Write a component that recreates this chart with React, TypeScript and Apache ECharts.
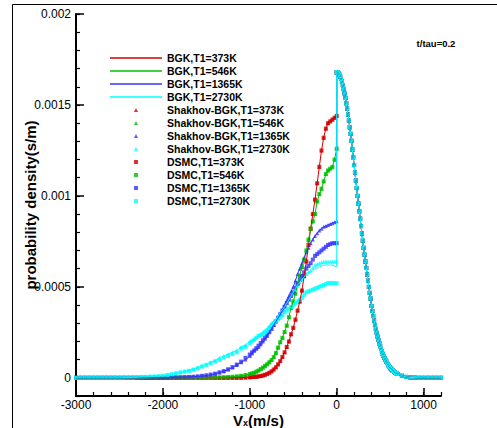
import React, { useEffect, useRef } from "react";
import * as echarts from "echarts";

// ---- velocity grids (m/s) ----
const vFarLeft = [
  -3000, -2950, -2900, -2850, -2800, -2750, -2700, -2650, -2600, -2550,
  -2500, -2450, -2400, -2350, -2300, -2250, -2200, -2150, -2100, -2050,
  -2000, -1950, -1900, -1850, -1800, -1750, -1700, -1650, -1600, -1550,
  -1500, -1450, -1400, -1350, -1300, -1250, -1200, -1150, -1100, -1050,
];
const vNearLeft = [
  -1000, -975, -950, -925, -900, -875, -850, -825, -800, -775,
  -750, -725, -700, -675, -650, -625, -600, -575, -550, -525,
  -500, -475, -450, -425, -400, -375, -350, -325, -300, -275,
  -250, -225, -200, -175, -150, -125, -100, -75, -50, -25, 0,
];
const vNearRight = [
  0, 10, 20, 30, 40, 50, 60, 70, 80, 90,
  100, 110, 120, 130, 140, 150, 160, 170, 180, 190,
  200, 210, 220, 230, 240, 250, 260, 270, 280, 290,
  300, 310, 320, 330, 340, 350, 360, 370, 380, 390,
  400, 410, 420, 430, 440, 450, 460, 470, 480, 490,
  500, 510, 520, 530, 540, 550, 560, 570, 580, 590,
  600, 610, 620, 630, 640, 650, 660, 670, 680, 690, 700,
];
const vFarRight = [750, 800, 850, 900, 950, 1000, 1050, 1100, 1150, 1200];

// ---- right branch (Vx > 0), common to all cases ----
const nearRight = [
  0.00168, 0.00168, 0.001674, 0.001667, 0.001656, 0.001643, 0.001628, 0.001609, 0.001588, 0.001564,
  0.001538, 0.00151, 0.00148, 0.001448, 0.001414, 0.001378, 0.001341, 0.001303, 0.001255, 0.001213,
  0.00117, 0.001128, 0.001085, 0.001043, 0.001, 0.000958, 0.000916, 0.000875, 0.000834, 0.000794,
  0.000754, 0.000715, 0.000677, 0.00064, 0.000604, 0.000568, 0.000534, 0.0005, 0.000467, 0.000436,
  0.000395, 0.000367, 0.00034, 0.000315, 0.000291, 0.000268, 0.000247, 0.000227, 0.000208, 0.00019,
  0.000174, 0.000159, 0.000145, 0.000132, 0.00012, 0.000109, 0.000099, 0.00009, 0.000081, 0.000073,
  0.000066, 0.000059, 0.000053, 0.000047, 0.000042, 0.000038, 0.000034, 0.00003, 0.000027, 0.000024, 0.000021,
];
const farRight = [0.000011, 0.000005, 0.000002, 0.000001, 0, 0, 0, 0, 0, 0];

// ---- left branches (Vx < 0) ----
// T1 = 373K (BGK, Shakhov-BGK and DSMC coincide)
const far373 = [
  0, 0, 0, 0, 0, 0, 0, 0, 0, 0,
  0, 0, 0, 0, 0, 0, 0, 0, 0, 0,
  0, 0, 0, 0, 0, 0, 0, 0, 0, 0,
  0, 0, 0, 0, 0, 0, 0, 0, 0.000001, 0.000002,
];
const near373 = [
  0.000003, 0.000004, 0.000005, 0.000006, 0.000008, 0.00001, 0.000013, 0.000017, 0.000022, 0.000028,
  0.000036, 0.000046, 0.000058, 0.000074, 0.000092, 0.000115, 0.00014, 0.00017, 0.0002, 0.00024,
  0.000275, 0.00032, 0.00037, 0.00042, 0.00048, 0.00056, 0.00064, 0.00073, 0.00082, 0.0009,
  0.00098, 0.00107, 0.00116, 0.00125, 0.00132, 0.00137, 0.0014, 0.00141, 0.00142, 0.00143, 0.00144,
];
// T1 = 546K
const far546 = [
  0, 0, 0, 0, 0, 0, 0, 0, 0, 0,
  0, 0, 0, 0, 0, 0, 0, 0, 0, 0,
  0, 0, 0, 0, 0, 0, 0, 0, 0, 0,
  0, 0, 0.000001, 0.000002, 0.000003, 0.000004, 0.000006, 0.000008, 0.000011, 0.000015,
];
const near546 = [
  0.000021, 0.000024, 0.000028, 0.000034, 0.00004, 0.000048, 0.000056, 0.000066, 0.000075, 0.000086,
  0.000098, 0.000114, 0.000136, 0.000166, 0.000196, 0.00022, 0.000252, 0.000287, 0.000334, 0.000385,
  0.00042, 0.000463, 0.000517, 0.000562, 0.000608, 0.00065, 0.0007, 0.00076, 0.00082, 0.00086,
  0.0009, 0.00097, 0.00101, 0.00104, 0.00108, 0.00112, 0.00114, 0.00115, 0.00116, 0.0012, 0.00126,
];
// T1 = 1365K
const far1365Model = [
  0, 0, 0, 0, 0, 0, 0, 0, 0, 0,
  0, 0, 0, 0, 0, 0, 0, 0, 0, 0,
  0, 0, 0.000001, 0.000002, 0.000002, 0.000003, 0.000004, 0.000006, 0.000008, 0.00001,
  0.000013, 0.000017, 0.000022, 0.000029, 0.000036, 0.000046, 0.000057, 0.00007, 0.000085, 0.0001,
];
const near1365Model = [
  0.00012, 0.000135, 0.00015, 0.00016, 0.00017, 0.000185, 0.0002, 0.000215, 0.00023, 0.00025,
  0.00027, 0.00029, 0.00031, 0.00033, 0.00035, 0.000375, 0.0004, 0.000425, 0.00045, 0.000475,
  0.0005, 0.000535, 0.00057, 0.0006, 0.00063, 0.00066, 0.00069, 0.000715, 0.00074, 0.00076,
  0.00078, 0.000795, 0.00081, 0.00082, 0.00083, 0.000835, 0.00084, 0.000845, 0.00085, 0.000855, 0.00086,
];
const far1365Dsmc = [
  0, 0, 0, 0, 0, 0, 0, 0, 0, 0,
  0, 0, 0, 0, 0, 0, 0, 0, 0, 0,
  0.000001, 0.000001, 0.000002, 0.000002, 0.000003, 0.000004, 0.000005, 0.000006, 0.000008, 0.000011,
  0.000014, 0.000018, 0.000023, 0.00003, 0.000037, 0.000047, 0.000059, 0.000073, 0.000089, 0.00011,
];
const near1365Dsmc = [
  0.000128, 0.00014, 0.00015, 0.000163, 0.000177, 0.000192, 0.000207, 0.000222, 0.000237, 0.000254,
  0.00027, 0.00029, 0.00031, 0.00033, 0.00035, 0.00037, 0.00039, 0.00041, 0.00043, 0.00045,
  0.00047, 0.000495, 0.00052, 0.00054, 0.00056, 0.00058, 0.0006, 0.000615, 0.00063, 0.00065,
  0.00067, 0.00068, 0.00069, 0.0007, 0.00071, 0.00072, 0.00073, 0.000735, 0.00074, 0.00074, 0.00074,
];
// T1 = 2730K
const far2730Model = [
  0, 0, 0, 0, 0, 0, 0, 0, 0, 0,
  0, 0.000001, 0.000001, 0.000002, 0.000003, 0.000004, 0.000005, 0.000006, 0.000008, 0.00001,
  0.000013, 0.000016, 0.00002, 0.000025, 0.00003, 0.000036, 0.000042, 0.000049, 0.000057, 0.000066,
  0.000076, 0.000085, 0.000095, 0.00011, 0.00012, 0.00013, 0.00014, 0.00015, 0.00017, 0.00018,
];
const near2730Shakhov = [
  0.0002, 0.000205, 0.00021, 0.00022, 0.00023, 0.00024, 0.00025, 0.00026, 0.00027, 0.000285,
  0.0003, 0.00031, 0.00032, 0.00034, 0.00036, 0.000375, 0.00039, 0.00041, 0.00043, 0.00045,
  0.00047, 0.00049, 0.00051, 0.000525, 0.00054, 0.000555, 0.00057, 0.00058, 0.00059, 0.000605,
  0.00062, 0.000625, 0.00063, 0.000635, 0.00064, 0.00064, 0.00064, 0.00064, 0.00064, 0.00064, 0.00064,
];
const near2730Bgk = [
  0.0002, 0.000205, 0.00021, 0.00022, 0.00023, 0.00024, 0.00025, 0.00026, 0.00027, 0.000285,
  0.0003, 0.00031, 0.00032, 0.00034, 0.00036, 0.000375, 0.00039, 0.00041, 0.00043, 0.00045,
  0.00047, 0.00049, 0.00051, 0.000525, 0.00054, 0.000555, 0.00057, 0.00058, 0.00058, 0.00059,
  0.0006, 0.000605, 0.00061, 0.000615, 0.00062, 0.00062, 0.00062, 0.00062, 0.00062, 0.000615, 0.00061,
];
const far2730Dsmc = [
  0, 0, 0, 0, 0, 0, 0, 0, 0, 0,
  0, 0, 0.000001, 0.000001, 0.000003, 0.000004, 0.000005, 0.000006, 0.000007, 0.000009,
  0.000011, 0.000015, 0.00002, 0.000025, 0.00003, 0.000034, 0.000038, 0.000045, 0.000052, 0.000062,
  0.00007, 0.00008, 0.00009, 0.000098, 0.00011, 0.00012, 0.00013, 0.00014, 0.00016, 0.00017,
];
const near2730Dsmc = [
  0.00019, 0.0002, 0.00021, 0.00022, 0.00023, 0.000235, 0.00024, 0.00025, 0.00026, 0.000275,
  0.00029, 0.0003, 0.00031, 0.00032, 0.00033, 0.000345, 0.00036, 0.00037, 0.00038, 0.00039,
  0.0004, 0.00041, 0.00042, 0.00043, 0.00044, 0.000455, 0.00047, 0.000475, 0.00048, 0.000485,
  0.00049, 0.000495, 0.0005, 0.000505, 0.00051, 0.000515, 0.00052, 0.00052, 0.00052, 0.00052, 0.00052,
];

const temps = ["373K", "546K", "1365K", "2730K"];
const colors = ["#d40000", "#00c000", "#3333ff", "#00ffff"];
const bgkFar = [far373, far546, far1365Model, far2730Model];
const bgkNear = [near373, near546, near1365Model, near2730Bgk];
const shakhovFar = [far373, far546, far1365Model, far2730Model];
const shakhovNear = [near373, near546, near1365Model, near2730Shakhov];
const dsmcFar = [far373, far546, far1365Dsmc, far2730Dsmc];
const dsmcNear = [near373, near546, near1365Dsmc, near2730Dsmc];

const yLabelValues = [0, 0.0005, 0.001, 0.0015, 0.002];
const yLabels = ["0", "0.0005", "0.001", "0.0015", "0.002"];

const FONT = "Liberation Sans, Arial, sans-serif";

// plot frame (pixels)
const GL = 76;
const GR = 56;
const GT = 14;
const GB = 32;
const PLOT_W = 497 - GL - GR;
const PLOT_H = 428 - GT - GB;

function pairs(xs: number[], ys: number[]) {
  return xs.map((x, i) => [x, ys[i]]);
}
function curve(far: number[], near: number[]) {
  return pairs(vFarLeft, far)
    .concat(pairs(vNearLeft, near))
    .concat(pairs(vNearRight, nearRight))
    .concat(pairs(vFarRight, farRight));
}

export default function App() {
  const ref = useRef<HTMLDivElement>(null);
  useEffect(() => {
    if (!ref.current) return;
    const chart = echarts.init(ref.current, null, { renderer: "svg" });
    const series: any[] = [];
    const legendData: any[] = [];
    temps.forEach((t, k) => {
      const name = "BGK,T1=" + t;
      legendData.push({ name, icon: "path://M0,0L52,0L52,1.6L0,1.6Z" });
      series.push({
        name,
        type: "line",
        symbol: "none",
        showSymbol: false,
        color: colors[k],
        lineStyle: { width: 1, color: colors[k] },
        data: curve(bgkFar[k], bgkNear[k]),
      });
    });
    temps.forEach((t, k) => {
      const name = "Shakhov-BGK,T1=" + t;
      legendData.push({ name, icon: "path://M5,0L10,10L0,10Z" });
      series.push({
        name,
        type: "scatter",
        symbol: "triangle",
        symbolSize: 4,
        itemStyle: { color: colors[k] },
        data: curve(shakhovFar[k], shakhovNear[k]),
      });
    });
    temps.forEach((t, k) => {
      const name = "DSMC,T1=" + t;
      legendData.push({ name, icon: "path://M0,0L10,0L10,10L0,10Z" });
      series.push({
        name,
        type: "scatter",
        symbol: "rect",
        symbolSize: 4,
        itemStyle: { color: colors[k] },
        data: curve(dsmcFar[k], dsmcNear[k]),
      });
    });

    // pixel position of Vx = 1000 on the main axis
    const x1000 = GL + (4000 / 4200) * PLOT_W;
    // pixel position of 0 on the main y axis
    const y0 = GT + (0.002 / 0.0021) * PLOT_H;

    const tickStyle = (len: number, w: number) => ({
      show: true,
      inside: true,
      length: len,
      lineStyle: { color: "#000", width: w },
    });

    chart.setOption({
      animation: false,
      backgroundColor: "#ffffff",
      grid: [
        { left: GL, right: GR, top: GT, bottom: GB, outerBoundsMode: "none", containLabel: false },
        { left: GL, right: GR, top: GT, bottom: 428 - y0, outerBoundsMode: "none", containLabel: false },
        { left: GL, right: 497 - x1000, top: GT, bottom: GB, outerBoundsMode: "none", containLabel: false },
      ],
      legend: {
        orient: "vertical",
        left: 110,
        top: 52,
        padding: 0,
        itemWidth: 52,
        itemHeight: 4,
        itemGap: 1,
        selectedMode: false,
        textStyle: {
          fontFamily: FONT,
          fontWeight: "bold",
          fontSize: 10.5,
          color: "#000",
          lineHeight: 12,
        },
        data: legendData,
      },
      xAxis: [
        {
          gridIndex: 0,
          type: "value",
          min: -3000,
          max: 1200,
          interval: 200,
          position: "bottom",
          splitLine: { show: false },
          axisLine: { show: true, onZero: false, lineStyle: { color: "#000", width: 2 } },
          axisTick: tickStyle(4, 1.2),
          axisLabel: { show: false },
          name: "{v|V}{s|x}{v|(m/s)}",
          nameLocation: "middle",
          nameGap: 17,
          nameTextStyle: {
            lineHeight: 14,
            rich: {
              v: { fontFamily: FONT, fontWeight: "bold", fontSize: 15, color: "#000", lineHeight: 14 },
              s: {
                fontFamily: FONT,
                fontWeight: "bold",
                fontSize: 9,
                color: "#000",
                lineHeight: 14,
                verticalAlign: "bottom",
                padding: [5, 0, 0, 0],
              },
            },
          },
        },
        {
          gridIndex: 1,
          type: "value",
          min: -3000,
          max: 1200,
          show: false,
        },
        {
          gridIndex: 2,
          type: "value",
          min: -3000,
          max: 1000,
          interval: 1000,
          position: "bottom",
          splitLine: { show: false },
          axisLine: { show: false, onZero: false },
          axisTick: tickStyle(8, 1.5),
          axisLabel: {
            formatter: (v: number) => String(Math.round(v)),
            fontFamily: FONT,
            fontSize: 12,
            lineHeight: 12,
            color: "#000",
            margin: 3,
          },
        },
      ],
      yAxis: [
        {
          gridIndex: 0,
          type: "value",
          min: -0.0001,
          max: 0.002,
          interval: 0.0001,
          position: "left",
          splitLine: { show: false },
          axisLine: { show: true, onZero: false, lineStyle: { color: "#000", width: 2 } },
          axisTick: tickStyle(4, 1.2),
          axisLabel: { show: false },
          name: "probability density(s/m)",
          nameLocation: "middle",
          nameGap: 38,
          nameTextStyle: { fontFamily: FONT, fontWeight: "bold", fontSize: 15, color: "#000" },
        },
        {
          gridIndex: 1,
          type: "value",
          min: 0,
          max: 0.002,
          interval: 0.0005,
          position: "left",
          splitLine: { show: false },
          axisLine: { show: false, onZero: false },
          axisTick: tickStyle(8, 1.5),
          axisLabel: {
            formatter: (v: number) => {
              const i = yLabelValues.findIndex((m) => Math.abs(m - v) < 1e-9);
              return i >= 0 ? yLabels[i] : "";
            },
            fontFamily: FONT,
            fontSize: 12,
            color: "#000",
            margin: 5,
          },
        },
        {
          gridIndex: 2,
          type: "value",
          min: 0,
          max: 1,
          show: false,
        },
      ],
      graphic: [
        {
          type: "polyline",
          silent: true,
          shape: { points: [[12.5, 428], [12.5, 4.5], [497, 4.5]] },
          style: { stroke: "#000", lineWidth: 1, fill: null },
        },
        {
          type: "text",
          x: 436,
          y: 43,
          style: {
            text: "t/tau=0.2",
            font: "bold 9.5px Liberation Sans",
            fill: "#000",
            align: "center",
            verticalAlign: "middle",
            textAlign: "center",
            textVerticalAlign: "middle",
          },
        },
      ],
      series: series.map((s) => ({ ...s, xAxisIndex: 0, yAxisIndex: 0 })),
    });
    return () => chart.dispose();
  }, []);
  return (
    <div
      ref={ref}
      style={{ position: "fixed", left: 0, top: 0, width: 497, height: 428 }}
    />
  );
}
